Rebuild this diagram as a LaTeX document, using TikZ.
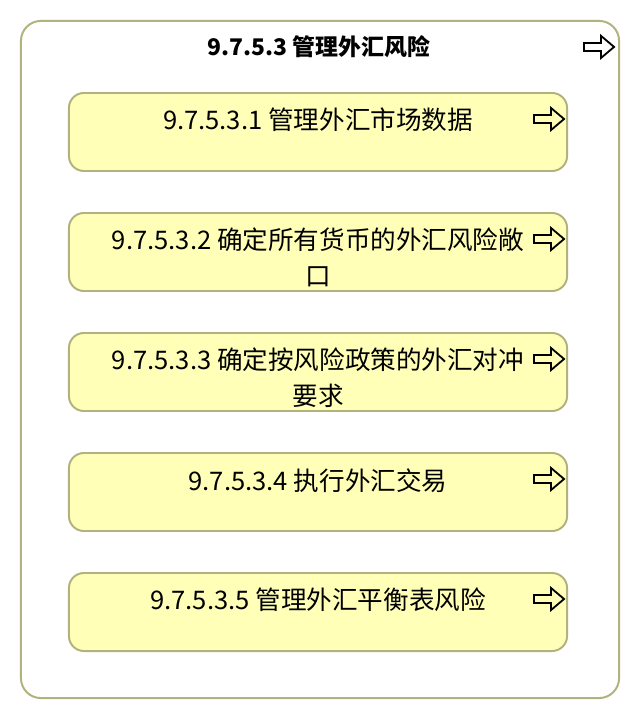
\documentclass[tikz,border=0pt]{standalone}
\usepackage{fontspec}
\setmainfont{Noto Sans CJK SC}
\usetikzlibrary{positioning,calc}

\definecolor{boxline}{RGB}{178,178,126}
\definecolor{boxfill}{RGB}{255,255,183}

\tikzset{
  groupbox/.style={draw=boxline, line width=1.4pt, rounded corners=0.5cm,
    minimum width=14.95cm, minimum height=16.925cm, inner sep=0pt},
  taskbox/.style={draw=boxline, fill=boxfill, line width=1.4pt, rounded corners=0.375cm,
    minimum width=12.45cm, minimum height=1.95cm, inner sep=0pt},
  tasktext/.style={anchor=north, inner sep=0pt, align=center,
    font=\fontsize{18.2}{25}\selectfont},
  fwdarrow/.pic={\draw[line width=1.3pt, line join=miter]
    (0,-4) -- (17,-4) -- (17,-11) -- (30,0) -- (17,11) -- (17,4) -- (0,4) -- cycle;}
}

\begin{document}
\begin{tikzpicture}[x=0.025cm, y=-0.025cm]
\useasboundingbox (0,0) rectangle (640,720);

\node[groupbox] (grp) at (320,359.5) {};
\node[font=\fontsize{16.3}{20}\selectfont\bfseries] (title) at (319,47) {9.7.5.3 管理外汇风险};
\pic at ($(grp.north east)+(-36,27)$) {fwdarrow};

\node[taskbox] (b1) at (318,132) {};
\node[taskbox] (b2) at (318,252) {};
\node[taskbox] (b3) at (318,372) {};
\node[taskbox] (b4) at (318,492) {};
\node[taskbox] (b5) at (318,612) {};

\node[tasktext] (t1) at ($(b1.north)+(0,16)$) {9.7.5.3.1 管理外汇市场数据};
\node[tasktext] (t2) at ($(b2.north)+(0,16)$) {9.7.5.3.2 确定所有货币的外汇风险敞\\口};
\node[tasktext] (t3) at ($(b3.north)+(0,16)$) {9.7.5.3.3 确定按风险政策的外汇对冲\\要求};
\node[tasktext] (t4) at ($(b4.north)+(0,16)$) {9.7.5.3.4 执行外汇交易};
\node[tasktext] (t5) at ($(b5.north)+(0,16)$) {9.7.5.3.5 管理外汇平衡表风险};

\foreach \b in {b1,b2,b3,b4,b5}
  \pic at ($(\b.north east)+(-34,27)$) {fwdarrow};

\end{tikzpicture}
\end{document}
